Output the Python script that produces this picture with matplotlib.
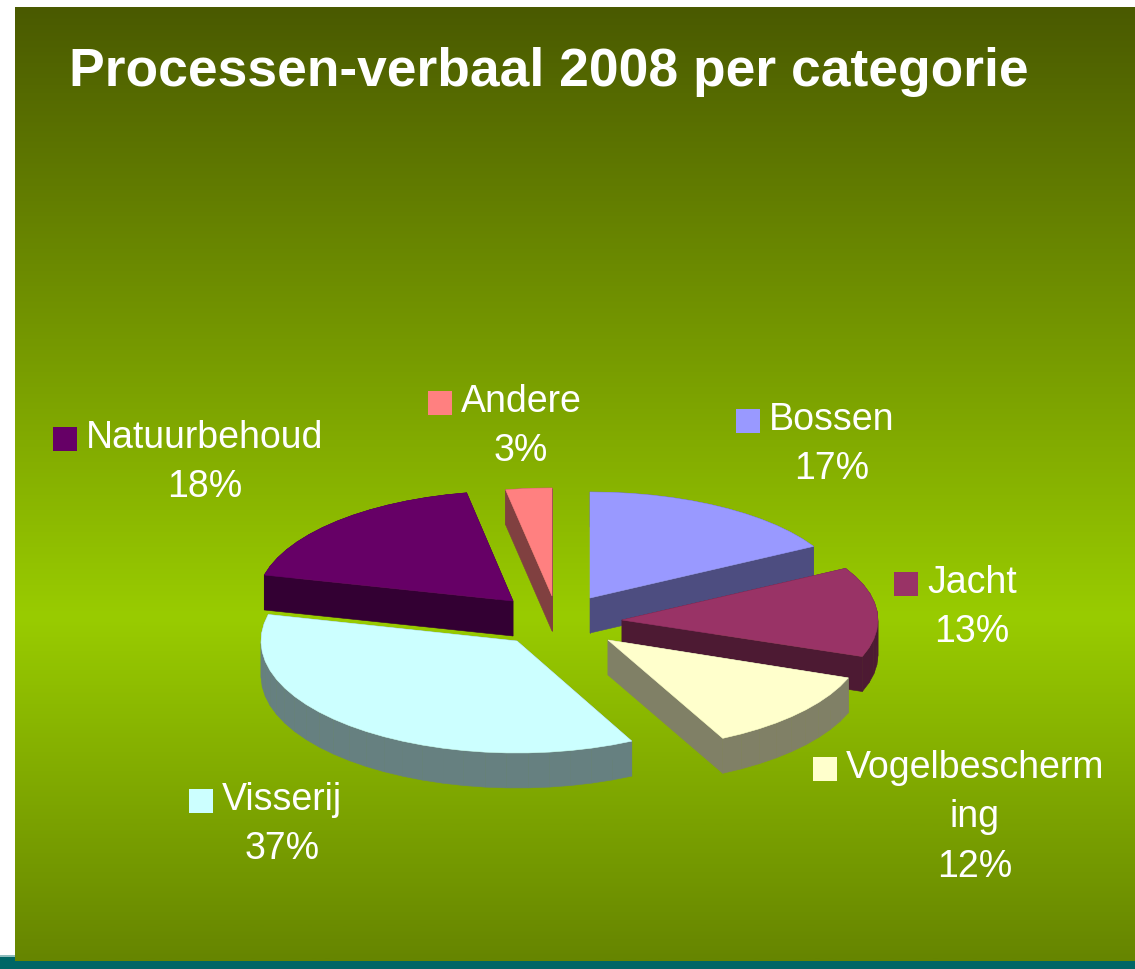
import numpy as np
import matplotlib
matplotlib.use("Agg")
import matplotlib.pyplot as plt
from matplotlib.patches import Polygon, Rectangle
from matplotlib.colors import LinearSegmentedColormap

# ---- data ----
title = "Processen-verbaal 2008 per categorie"
categories = ["Bossen", "Jacht", "Vogelbescherming", "Visserij", "Natuurbehoud", "Andere"]
label_lines = [["Bossen"], ["Jacht"], ["Vogelbescherm", "ing"], ["Visserij"], ["Natuurbehoud"], ["Andere"]]
percent_labels = [17, 13, 12, 37, 18, 3]
slice_shares = [16.9, 13.7, 12.0, 36.2, 18.3, 2.9]

# ---- styles / layout ----
top_colors = ["#9999FF", "#993366", "#FFFFCC", "#CCFFFF", "#660066", "#FF8080"]
side_colors = ["#4D4D80", "#4D1A33", "#808066", "#668080", "#330033", "#804040"]
apexes = [(590, 599), (622, 621), (608, 641), (517, 642), (513, 602), (552, 597)]
radii_y = [106, 106, 110, 112, 110, 108]
label_anchor = [(832, 430), (972, 593), (975, 778), (282, 810), (205, 448), (521, 412)]
RX, DEPTH = 256, 35
W, H = 1135, 970
FONT = "Liberation Sans"

fig = plt.figure(figsize=(W / 100, H / 100), dpi=100, facecolor="white")
ax = fig.add_axes([0, 0, 1, 1])
ax.set_xlim(0, W)
ax.set_ylim(H, 0)
ax.axis("off")

cmap = LinearSegmentedColormap.from_list(
    "bg", [(0.0, "#4A5A00"), (0.64, "#99CC00"), (1.0, "#668500")])
grad = np.linspace(0, 1, 512).reshape(-1, 1)
ax.imshow(grad, cmap=cmap, extent=(15, W, 962, 8), aspect="auto", zorder=0, vmin=0, vmax=1)
ax.set_xlim(0, W)
ax.set_ylim(H, 0)
ax.add_patch(Rectangle((0, 962), W, 8, fc="#006666", ec="none", zorder=1))
ax.add_patch(Rectangle((0, 958), 15, 4, fc="#006666", ec="none", zorder=1))
ax.add_patch(Rectangle((0, 956), 15, 2, fc="#8FBDBD", ec="none", zorder=1))


def outline(cx, cy, ry, a0, a1):
    n = max(2, int(np.ceil((a1 - a0) / 5)) + 1)
    th = np.radians(np.linspace(a0, a1, n))
    xs = cx + RX * np.sin(th)
    ys = cy - ry * np.cos(th)
    return np.column_stack([np.r_[cx, xs], np.r_[cy, ys]])


edges = np.r_[0, np.cumsum(slice_shares)] / np.sum(slice_shares) * 360
order = np.argsort([a[1] for a in apexes])
for z, i in enumerate(order):
    pts = outline(*apexes[i], radii_y[i], edges[i], edges[i + 1])
    base = 3 + z * 0.1
    m = len(pts)
    for j in range(m):
        p, q = pts[j], pts[(j + 1) % m]
        quad = [p, q, q + [0, DEPTH], p + [0, DEPTH]]
        ax.add_patch(Polygon(quad, closed=True, fc=side_colors[i], ec=side_colors[i],
                             lw=0.4, zorder=base))
    ax.add_patch(Polygon(pts, closed=True, fc=top_colors[i], ec=top_colors[i],
                         lw=0.4, zorder=base + 0.05))

ax.text(69, 86, title, color="white", fontsize=38.4, fontweight="bold",
        family=FONT, ha="left", va="baseline", zorder=20)

LINE = 49.5
renderer = fig.canvas.get_renderer()
for i in range(len(categories)):
    cx, by = label_anchor[i]
    lines = label_lines[i] + [f"{percent_labels[i]}%"]
    first = None
    for k, s in enumerate(lines):
        t = ax.text(cx, by + k * LINE, s, color="white", fontsize=27, family=FONT,
                    ha="center", va="baseline", zorder=20)
        if k == 0:
            first = t
    left = first.get_window_extent(renderer).x0
    ax.add_patch(Rectangle((left - 33, by - 20), 24, 23.5, fc=top_colors[i], ec="none", zorder=20))

fig.savefig("out.png", dpi=100, facecolor="white")
